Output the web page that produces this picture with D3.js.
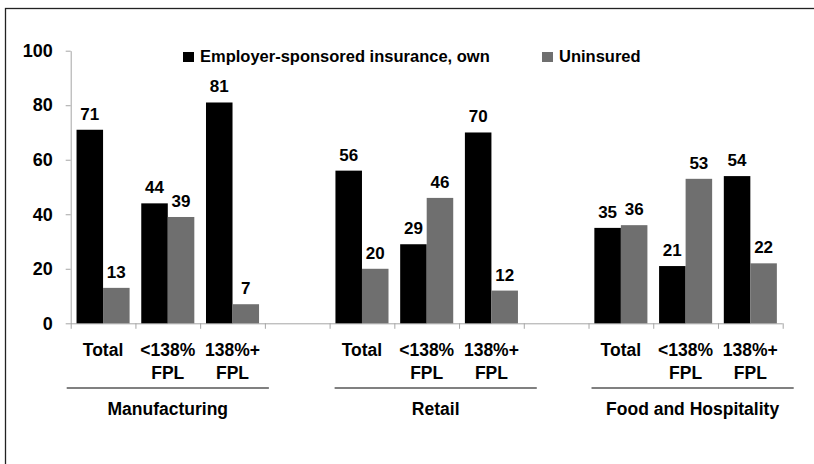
<!DOCTYPE html>
<html>
<head>
<meta charset="utf-8">
<script src="https://cdn.jsdelivr.net/npm/d3@7"></script>
<style>
  body { margin: 0; background: #fff; }
  .chart { width: 814px; height: 464px; }
  text { font-family: "Liberation Sans", Arial, sans-serif; font-weight: bold; fill: #000; }
</style>
</head>
<body>
<div class="chart"></div>
<script>
// values
let industries = ["Manufacturing", "Retail", "Food and Hospitality"];
let incomeGroups = [["Total"], ["<138%", "FPL"], ["138%+", "FPL"]];
let seriesNames = ["Employer-sponsored insurance, own", "Uninsured"];
let employerOwn = [71, 44, 81, 56, 29, 70, 35, 21, 54];
let uninsured = [13, 39, 7, 20, 46, 12, 36, 53, 22];
let yTicks = [0, 20, 40, 60, 80, 100];

let chart = {};
chart.colors = ["#000000", "#6f6f6f"];

// build the slot list: 3 income groups per industry, an empty slot between industries
let slots = [];
industries.forEach((ind, i) => {
    if (i > 0) slots.push({ id: "gap" + i, gap: true });
    incomeGroups.forEach((g, j) => {
        let k = i * incomeGroups.length + j;
        slots.push({
            id: ind + "|" + g.join(" "),
            industry: ind,
            lines: g,
            values: [employerOwn[k], uninsured[k]]
        });
    });
});

chart.svg = d3.select(".chart").append("svg")
    .attr("width", 814)
    .attr("height", 464);

// outer frame (runs off the right and bottom edge)
chart.svg.append("rect")
    .attr("x", 5.5).attr("y", 8.5)
    .attr("width", 830).attr("height", 480)
    .attr("fill", "none")
    .attr("stroke", "#222")
    .attr("stroke-width", 1.3);

chart.x = d3.scaleBand()
    .domain(slots.map(d => d.id))
    .range([70.7, 782.7])
    .padding(0);

chart.x1 = d3.scaleBand()
    .domain([0, 1])
    .range([0, chart.x.bandwidth()])
    .paddingInner(0)
    .paddingOuter(0.22);

chart.y = d3.scaleLinear()
    .domain([0, 100])
    .range([323.3, 50.7]);

// y axis
chart.yAxis = chart.svg.append("g")
    .attr("transform", "translate(70.7,0)")
    .call(d3.axisLeft(chart.y).tickValues(yTicks).tickSize(5).tickSizeOuter(0).tickPadding(13));
chart.yAxis.select(".domain").attr("stroke", "#a6a6a6");
chart.yAxis.selectAll(".tick line").attr("stroke", "#a6a6a6");
chart.yAxis.selectAll(".tick text")
    .style("font-family", "'Liberation Sans', Arial, sans-serif")
    .style("font-weight", "bold")
    .style("font-size", "18px")
    .attr("fill", "#000");

// x axis line and ticks at each slot boundary
let boundaries = slots.map(d => chart.x(d.id)).concat([chart.x.range()[1]]);
chart.svg.append("line")
    .attr("x1", chart.x.range()[0]).attr("x2", chart.x.range()[1])
    .attr("y1", chart.y(0) + 0.5).attr("y2", chart.y(0) + 0.5)
    .attr("stroke", "#a6a6a6");
chart.svg.selectAll(".xtick")
    .data(boundaries)
    .enter().append("line")
    .attr("class", "xtick")
    .attr("x1", d => d + 0.5).attr("x2", d => d + 0.5)
    .attr("y1", chart.y(0)).attr("y2", chart.y(0) + 5.5)
    .attr("stroke", "#a6a6a6");

// bars
let dataSlots = slots.filter(d => !d.gap);
let slotG = chart.svg.selectAll(".slot")
    .data(dataSlots)
    .enter().append("g")
    .attr("class", "slot")
    .attr("transform", d => `translate(${chart.x(d.id)},0)`);

slotG.selectAll("rect")
    .data(d => d.values.map((v, i) => ({ v: v, i: i })))
    .enter().append("rect")
    .attr("x", d => chart.x1(d.i))
    .attr("y", d => chart.y(d.v))
    .attr("width", chart.x1.bandwidth())
    .attr("height", d => chart.y(0) - chart.y(d.v))
    .attr("fill", d => chart.colors[d.i]);

slotG.selectAll(".val")
    .data(d => d.values.map((v, i) => ({ v: v, i: i })))
    .enter().append("text")
    .attr("class", "val")
    .attr("x", d => chart.x1(d.i) + chart.x1.bandwidth() / 2)
    .attr("y", d => chart.y(d.v) - 10)
    .attr("text-anchor", "middle")
    .style("font-size", "17px")
    .text(d => d.v);

// income group labels
slotG.selectAll(".cat")
    .data(d => d.lines)
    .enter().append("text")
    .attr("class", "cat")
    .attr("x", chart.x.bandwidth() / 2)
    .attr("y", (d, i) => 356 + i * 23)
    .attr("text-anchor", "middle")
    .style("font-size", "17.5px")
    .text(d => d);

// industry lines and labels (the original has them nudged a little)
let nudge = [0, 9, 7];
industries.forEach((ind, i) => {
    let first = chart.x(ind + "|" + incomeGroups[0].join(" "));
    let last = chart.x(ind + "|" + incomeGroups[incomeGroups.length - 1].join(" ")) + chart.x.bandwidth();
    let mid = (first + last) / 2 + nudge[i];
    let half = (last - first) / 2 + 4;
    chart.svg.append("line")
        .attr("x1", mid - half).attr("x2", mid + half)
        .attr("y1", 388).attr("y2", 388)
        .attr("stroke", "#808080")
        .attr("stroke-width", 2);
    chart.svg.append("text")
        .attr("x", mid)
        .attr("y", 415)
        .attr("text-anchor", "middle")
        .style("font-size", "17.5px")
        .text(ind);
});

// legend
let legendX = [183, 542];
let legend = chart.svg.selectAll(".legend")
    .data(seriesNames)
    .enter().append("g")
    .attr("class", "legend")
    .attr("transform", (d, i) => `translate(${legendX[i]},50)`);
legend.append("rect")
    .attr("x", 0).attr("y", 2)
    .attr("width", 11).attr("height", 10)
    .attr("fill", (d, i) => chart.colors[i]);
legend.append("text")
    .attr("x", 17)
    .attr("y", 11.5)
    .style("font-size", "16.5px")
    .text(d => d);
</script>
</body>
</html>
